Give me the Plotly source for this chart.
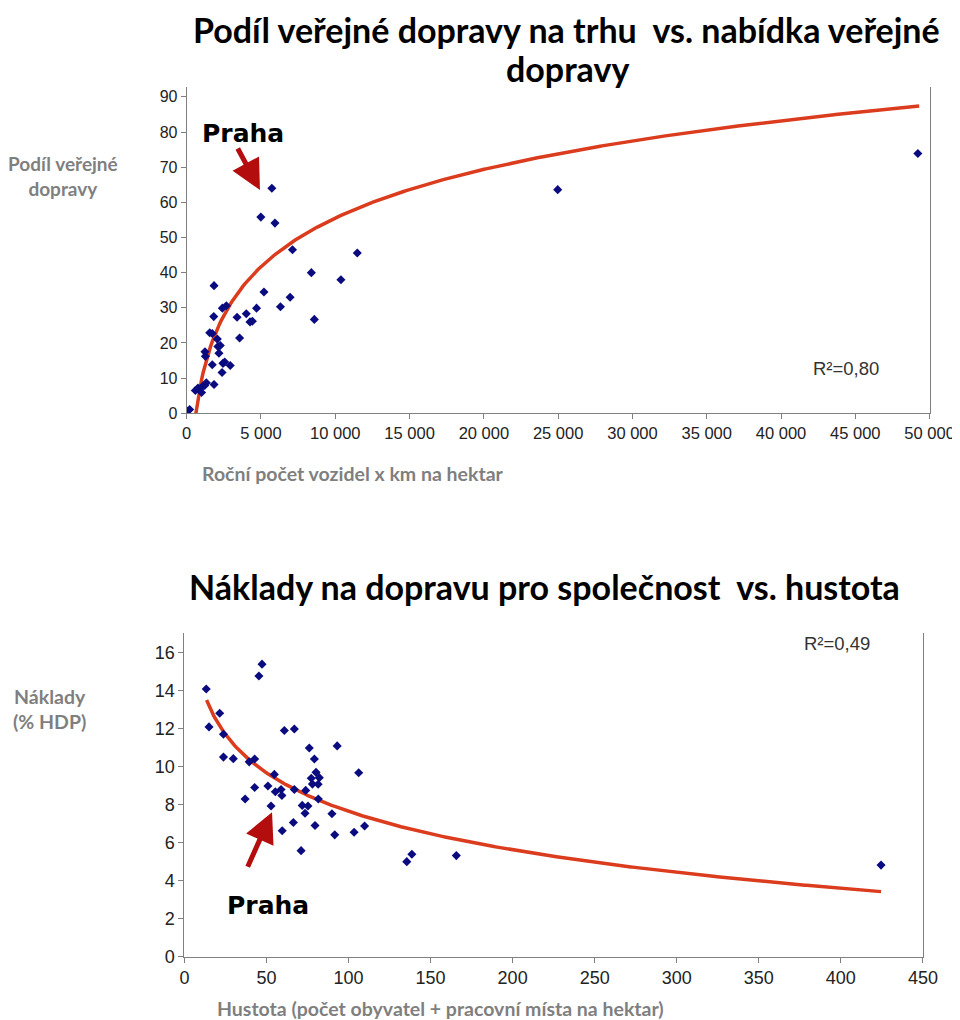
import numpy as np
import plotly.graph_objects as go

# ---------- Chart 1: public transport share vs. supply ----------
supply_x = [40, 200, 580, 760, 1000, 1050, 1210, 1320, 1230, 1260, 1550, 1720, 1820,
            1840, 1840, 1720, 2060, 2100, 2260, 2170, 2380, 2440, 2560, 2400, 2670,
            2930, 3390, 3560, 4010, 4260, 4420, 4700, 4990, 5200, 5730, 5940, 6310,
            6960, 7120, 8390, 8590, 10380, 11480, 24970, 49210]
share_y = [0.6, 1.1, 6.5, 7.2, 5.9, 7.6, 7.9, 8.7, 17.5, 16.2, 22.9, 22.7, 27.5,
           36.3, 8.2, 13.8, 21.1, 19.0, 19.3, 17.1, 11.6, 14.2, 14.6, 29.9, 30.6,
           13.6, 27.3, 21.4, 28.3, 26.0, 26.2, 29.9, 55.8, 34.5, 64.0, 54.1, 30.3,
           33.0, 46.5, 40.0, 26.7, 38.0, 45.6, 63.6, 73.9]
# logarithmic trend line y = a*ln(x) + b
trend1_a, trend1_b = 19.97, -128.4
trend1_xmin, trend1_xmax = 620, 49300
x1_ticks = [0, 5000, 10000, 15000, 20000, 25000, 30000, 35000, 40000, 45000, 50000]
x1_labels = ["0", "5 000", "10 000", "15 000", "20 000", "25 000", "30 000",
             "35 000", "40 000", "45 000", "50 000"]
y1_ticks = [0, 10, 20, 30, 40, 50, 60, 70, 80, 90]

# ---------- Chart 2: transport costs vs. density ----------
density_x = [13.3, 15.0, 21.5, 23.8, 23.8, 29.8, 37.0, 39.5, 42.8, 42.8, 45.4, 47.3,
             50.9, 52.8, 54.8, 55.4, 58.9, 59.4, 59.6, 60.9, 66.4, 67.0, 67.0, 71.1,
             71.8, 73.5, 73.9, 75.3, 76.1, 77.3, 78.0, 79.2, 79.6, 80.2, 81.5, 81.6,
             82.2, 89.9, 91.6, 93.1, 103.4, 106.2, 109.8, 135.5, 138.6, 165.7, 424.5]
cost_y = [14.08, 12.09, 12.81, 11.7, 10.5, 10.42, 8.3, 10.25, 10.4, 8.9, 14.77, 15.39,
          8.98, 7.93, 9.59, 8.68, 8.8, 8.48, 6.63, 11.9, 7.06, 11.98, 8.8, 5.58,
          7.96, 7.55, 8.75, 7.93, 10.98, 9.39, 9.08, 10.4, 6.9, 9.7, 9.07, 8.3,
          9.42, 7.52, 6.41, 11.09, 6.55, 9.68, 6.88, 5.0, 5.39, 5.32, 4.82]
trend2_a, trend2_b = -2.923, 21.11
trend2_xmin, trend2_xmax = 13.5, 424.5
x2_ticks = [0, 50, 100, 150, 200, 250, 300, 350, 400, 450]
y2_ticks = [0, 2, 4, 6, 8, 10, 12, 14, 16]

MARKER = "#0b0b80"
TREND = "#dc3c1e"
ARROW = "#b40d0d"
GREY = "#7f7f7f"
TITLE_FONT = "Lato"
TICK_FONT = "Liberation Sans Narrow, Liberation Sans, Arial"

# page body has an 8px margin: the figure is drawn 8px right/down of the window corner
OFF = 8
W, H = 960, 1020


def fx(px):
    return (px - OFF) / W


def fy(py):
    return 1 - (py - OFF) / H


t1x = np.linspace(trend1_xmin, trend1_xmax, 400)
t1y = trend1_a * np.log(t1x) + trend1_b
t2x = np.linspace(trend2_xmin, trend2_xmax, 400)
t2y = trend2_a * np.log(t2x) + trend2_b

fig = go.Figure()
fig.add_trace(go.Scatter(x=t1x, y=t1y, mode="lines", xaxis="x", yaxis="y",
                         line=dict(color=TREND, width=3.5), hoverinfo="skip"))
fig.add_trace(go.Scatter(x=supply_x, y=share_y, mode="markers", xaxis="x", yaxis="y",
                         marker=dict(symbol="diamond", size=7, color=MARKER)))
fig.add_trace(go.Scatter(x=t2x, y=t2y, mode="lines", xaxis="x2", yaxis="y2",
                         line=dict(color=TREND, width=3.5), hoverinfo="skip"))
fig.add_trace(go.Scatter(x=density_x, y=cost_y, mode="markers", xaxis="x2", yaxis="y2",
                         marker=dict(symbol="diamond", size=7, color=MARKER)))


def axis(size, **kw):
    d = dict(showgrid=False, zeroline=False, showline=True, linecolor="#808080",
             linewidth=1, ticks="outside", ticklen=5, tickcolor="#808080",
             automargin=False,
             tickfont=dict(family=TICK_FONT, size=size, color="#222222"))
    d.update(kw)
    return d


fig.update_layout(
    width=W, height=H,
    margin=dict(l=0, r=0, t=0, b=0, pad=0, autoexpand=False),
    paper_bgcolor="white", plot_bgcolor="white", showlegend=False,
    xaxis=axis(16.5, domain=[fx(186.7), fx(929.6)], range=[0, 50000], anchor="y",
               tickvals=x1_ticks, ticktext=x1_labels),
    yaxis=axis(16, domain=[fy(413.3), fy(87)], range=[0, 92.8], anchor="x", mirror=True,
               tickvals=y1_ticks),
    xaxis2=axis(18, domain=[fx(184.4), fx(922.9)], range=[0, 450], anchor="y2",
                tickvals=x2_ticks),
    yaxis2=axis(18, domain=[fy(956.7), fy(633)], range=[0, 17.03], anchor="x2",
                mirror=True, tickvals=y2_ticks),
)

ann = []
# titles
for txt, px, py in [("Podíl veřejné dopravy na trhu  vs. nabídka veřejné", 566, 29),
                    ("dopravy", 567, 68),
                    ("Náklady na dopravu pro společnost  vs. hustota", 544, 586)]:
    ann.append(dict(text=txt, x=fx(px), y=fy(py), xref="paper", yref="paper",
                    showarrow=False, xanchor="center", yanchor="middle",
                    font=dict(family=TITLE_FONT, size=34, color="black", weight="bold")))

axis_titles = [
    ("Podíl veřejné<br>dopravy", 63, 176, 19),
    ("Náklady<br>(% HDP)", 49, 709, 19.5),
    ("Roční počet vozidel x km na hektar", 353, 474, 19.5),
    ("Hustota (počet obyvatel + pracovní místa na hektar)", 440, 1008, 19.5),
]
for txt, px, py, fs in axis_titles:
    ann.append(dict(text=txt, x=fx(px), y=fy(py), xref="paper", yref="paper",
                    showarrow=False, xanchor="center", yanchor="middle",
                    font=dict(family=TITLE_FONT, size=fs, color=GREY, weight="bold")))

# Praha labels and arrows
praha_font = dict(family="DejaVu Sans", size=25, color="black", weight="bold")
ann.append(dict(text="Praha", x=3790, y=79.7, xref="x", yref="y", showarrow=False,
                font=praha_font))
ann.append(dict(text="", x=4930, y=63.5, xref="x", yref="y", ax=-23, ay=-43,
                showarrow=True, arrowhead=2, arrowsize=1.2, arrowwidth=5,
                arrowcolor=ARROW))
ann.append(dict(text="Praha", x=50.9, y=2.72, xref="x2", yref="y2", showarrow=False,
                font=praha_font))
ann.append(dict(text="", x=53.4, y=7.6, xref="x2", yref="y2", ax=-25, ay=56,
                showarrow=True, arrowhead=2, arrowsize=1.2, arrowwidth=5,
                arrowcolor=ARROW))

# R² labels
r2_font = dict(family="Liberation Sans, Arial", size=18.5, color="#333333")
ann.append(dict(text="R²=0,80", x=44370, y=12.6, xref="x", yref="y", showarrow=False,
                font=r2_font))
ann.append(dict(text="R²=0,49", x=397.6, y=16.46, xref="x2", yref="y2", showarrow=False,
                font=r2_font))

fig.update_layout(annotations=ann)
fig.write_html("out.html")
